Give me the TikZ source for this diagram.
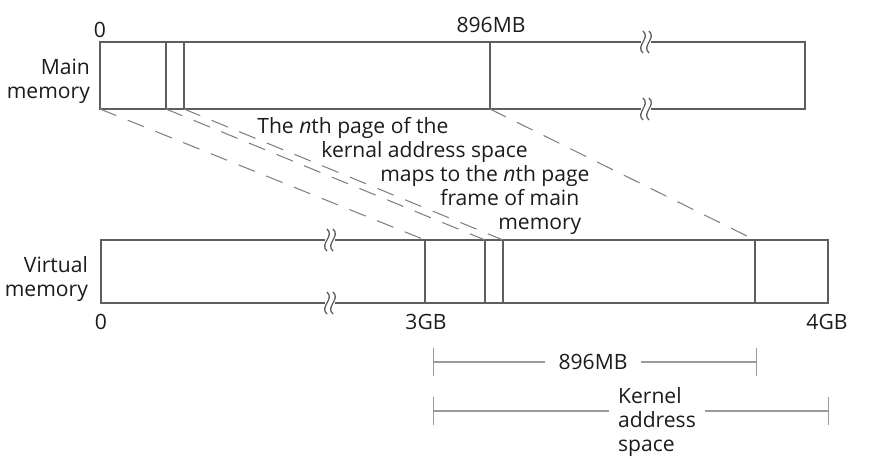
\documentclass[tikz,border=0pt]{standalone}
\usepackage{fontspec}
\setmainfont{Open Sans}
\usepackage{tikz}
\usetikzlibrary{arrows.meta,positioning,calc}
\definecolor{vmink}  {HTML}{1C1C1C}
\definecolor{vmline} {HTML}{5E5E5E}
\definecolor{vmdash} {HTML}{808080}
\definecolor{vmfaint}{HTML}{9A9A9A}
\tikzset{
  vmbar/.style={draw=vmline, line width=0.8pt},
  vmdiv/.style={draw=vmline, line width=0.7pt},
  vmmap/.style={draw=vmdash, line width=0.6pt, dash pattern=on 10pt off 7pt},
  vmdim/.style={draw=vmfaint, line width=0.6pt, {Bar[width=16pt]}-{Bar[width=16pt]}},
  vmlabel/.style={font=\fontsize{12}{13.5}\selectfont, text=vmink, inner sep=1pt},
  vmnote/.style={vmlabel, inner sep=0pt, anchor=base west},
  vmbreak/.pic={
    \foreach \dx in {-3,3}
      \draw[vmbar, line width=0.75pt] (\dx,-11) .. controls (\dx+8,-4) and (\dx-8,4) .. (\dx,11);
  },
}
\begin{document}
\begin{tikzpicture}[x=0.02cm, y=-0.02cm]
  \useasboundingbox (0,0) rectangle (876,459);
  % main memory
  \coordinate (mtl) at (100,42);  \coordinate (mtr) at (805,42);
  \coordinate (mbl) at (100,109); \coordinate (mbr) at (805,109);
  \draw[vmbar] (641,42) -- (mtl) -- (mbl) -- (641,109);
  \draw[vmbar] (651,42) -- (mtr) -- (mbr) -- (651,109);
  \pic at (646,42) {vmbreak}; \pic at (646,109) {vmbreak};
  \foreach \x/\n in {166/ma,184/mb,490/mc}{
    \coordinate (\n) at (\x,109);
    \draw[vmdiv] (\x,42) -- (\n);
  }
  % virtual memory
  \coordinate (vtl) at (101,240); \coordinate (vtr) at (828,240);
  \coordinate (vbl) at (101,303); \coordinate (vbr) at (828,303);
  \draw[vmbar] (325,240) -- (vtl) -- (vbl) -- (325,303);
  \draw[vmbar] (335,240) -- (vtr) -- (vbr) -- (335,303);
  \pic at (330,240) {vmbreak}; \pic at (330,303) {vmbreak};
  \foreach \x/\n in {425/va,485/vb,503/vc,755/vd}{
    \coordinate (\n) at (\x,240);
    \draw[vmdiv] (\n) -- (\x,303);
  }
  % page mapping
  \draw[vmmap] (mbl) -- (va);
  \draw[vmmap] (ma) -- (vb);
  \draw[vmmap] (mb) -- (vc);
  \draw[vmmap] (mc) -- (vd);
  \node[vmnote] (note1) at (257,134) {The \emph{n}th page of the};
  \node[vmnote] (note2) at (321,158) {kernal address space};
  \node[vmnote] (note3) at (380,182) {maps to the \emph{n}th page};
  \node[vmnote] (note4) at (440,206) {frame of main};
  \node[vmnote] (note5) at (498,230) {memory};
  % labels
  \node[vmlabel, anchor=base] (m0)   at (100,38) {0};
  \node[vmlabel, anchor=base] (m896) at (491,33) {896MB};
  \node[vmlabel, anchor=east, align=right] (mlab) at (92,81)  {Main\\memory};
  \node[vmlabel, anchor=east, align=right] (vlab) at (90,279) {Virtual\\memory};
  \node[vmlabel, anchor=base] (v0) at (101,330) {0};
  \node[vmlabel, anchor=base] (v3) at (426,330) {3GB};
  \node[vmlabel, anchor=base] (v4) at (827,330) {4GB};
  % sizes
  \coordinate (d1l) at (433,362); \coordinate (d1r) at (757,362);
  \coordinate (d2l) at (433,411); \coordinate (d2r) at (829,411);
  \draw[vmdim] (d1l) -- (d1r);
  \draw[vmdim] (d2l) -- (d2r);
  \node[vmlabel, fill=white, inner xsep=8pt] (dlow) at (593,362) {896MB};
  \node[vmlabel, fill=white, inner xsep=5pt, anchor=west, align=left] (dkern) at (609,422) {Kernel\\address\\space};
\end{tikzpicture}
\end{document}
